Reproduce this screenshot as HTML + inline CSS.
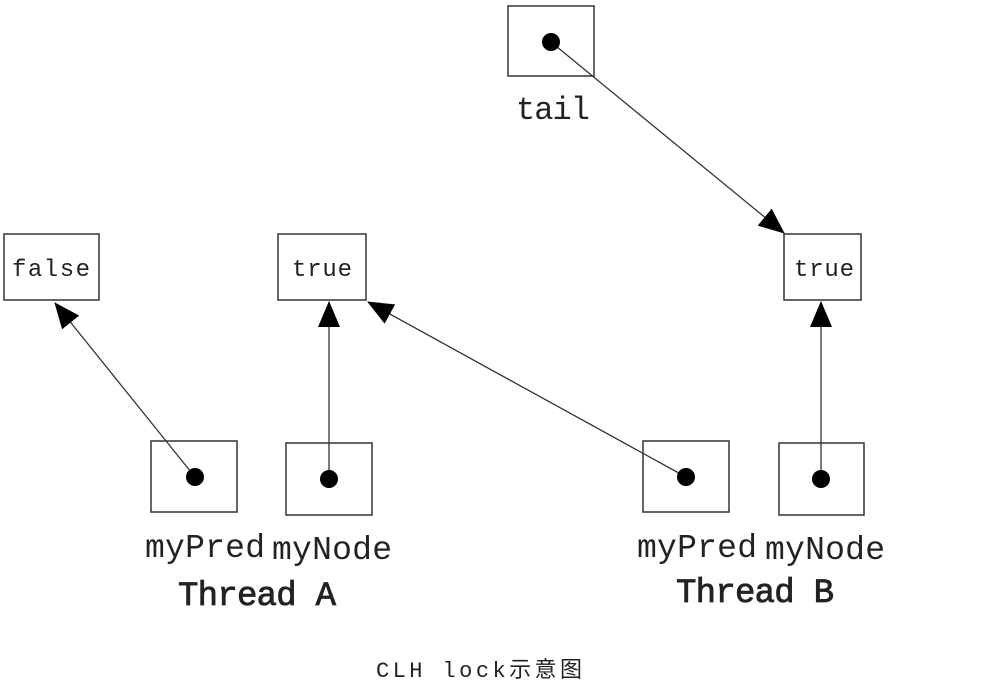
<!DOCTYPE html><html><head><style>body{margin:0;background:#fff}</style></head><body>
<svg width="991" height="691" xmlns="http://www.w3.org/2000/svg" style="display:block">
<defs><marker id="a" markerWidth="26" markerHeight="22" refX="25" refY="11" orient="auto" markerUnits="userSpaceOnUse"><path d="M0,0L26,11L0,22Z" fill="#000"/></marker></defs>
<g fill="none" stroke="#333" stroke-width="1.5">
<rect x="508" y="6" width="86" height="70"/>
<rect x="4" y="234" width="95" height="66"/>
<rect x="278" y="234" width="88" height="66"/>
<rect x="784" y="234" width="77" height="66"/>
<rect x="151" y="441" width="86" height="71"/>
<rect x="286" y="443" width="86" height="72"/>
<rect x="643" y="441" width="86" height="71"/>
<rect x="779" y="443" width="85" height="72"/>
</g>
<g stroke="#333" stroke-width="1.3" marker-end="url(#a)">
<line x1="551" y1="42" x2="784" y2="233"/>
<line x1="195" y1="477" x2="55" y2="303"/>
<line x1="329" y1="479" x2="329" y2="302"/>
<line x1="686" y1="477" x2="368" y2="302"/>
<line x1="821" y1="479" x2="821" y2="302"/>
</g>
<g fill="#000"><circle cx="551" cy="42" r="9"/><circle cx="195" cy="477" r="9"/><circle cx="329" cy="479" r="9"/><circle cx="686" cy="477" r="9"/><circle cx="821" cy="479" r="9"/></g>
<g font-family="Liberation Mono, monospace" fill="#222">
<text x="12" y="276" font-size="24" textLength="78">false</text>
<text x="292" y="276" font-size="24" textLength="60">true</text>
<text x="794" y="276" font-size="24" textLength="60">true</text>
<text x="516" y="119" font-size="32" textLength="74">tail</text>
<text x="145" y="557" font-size="33" textLength="120">myPred</text>
<text x="272" y="559" font-size="33" textLength="120">myNode</text>
<text x="637" y="557" font-size="33" textLength="120">myPred</text>
<text x="765" y="559" font-size="33" textLength="120">myNode</text>
<text x="178" y="605" font-size="34" stroke="#222" stroke-width="0.8" textLength="158">Thread A</text>
<text x="676" y="602" font-size="34" stroke="#222" stroke-width="0.8" textLength="158">Thread B</text>
<text x="376" y="677" font-size="22" font-family="Liberation Mono, 'Noto Sans CJK SC', monospace" textLength="206">CLH lock示意图</text>
</g>
</svg></body></html>
